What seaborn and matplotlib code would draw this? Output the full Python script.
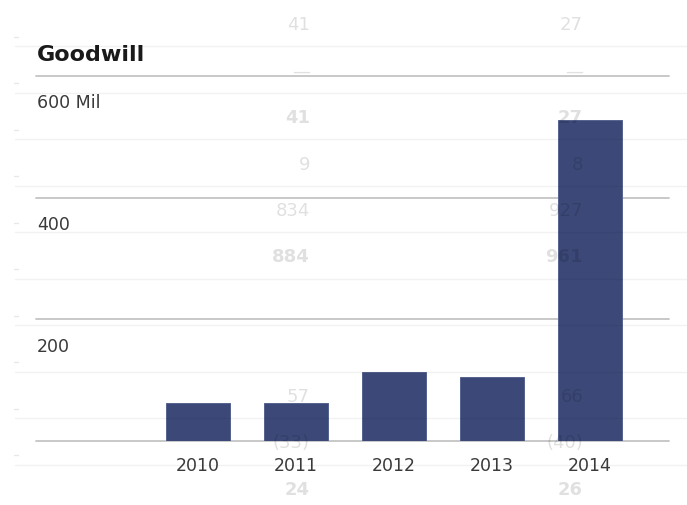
import matplotlib
matplotlib.use("Agg")
import matplotlib.pyplot as plt
import matplotlib.transforms as mtransforms
import seaborn as sns
import pandas as pd
from matplotlib.lines import Line2D

# ---- data ----
years = ["2010", "2011", "2012", "2013", "2014"]
goodwill = [62, 62, 113, 105, 528]
yticks = [0, 200, 400, 600]
ytick_labels = ["", "200", "400", "600 Mil"]
title = "Goodwill"

# faint background table text (two visible columns)
ghost_col_a = ["41", "—", "41", "9", "834", "884", "", "", "57", "(33)", "24"]
ghost_col_b = ["27", "—", "27", "8", "927", "961", "", "", "66", "(40)", "26"]
ghost_bold = [False, False, True, False, False, True, False, False, False, False, True]

sns.set_theme(style="white")
plt.rcParams["font.family"] = ["DejaVu Sans"]

W, H = 687, 506
fig = plt.figure(figsize=(W / 100, H / 100), dpi=100)
fig.patch.set_facecolor("white")

ax_left, ax_right = 36 / W, 669 / W
ax_bottom, ax_top = (H - 442) / H, (H - 77) / H
ax = fig.add_axes([ax_left, ax_bottom, ax_right - ax_left, ax_top - ax_bottom])
ax.patch.set_alpha(0)

df = pd.DataFrame({"year": years, "value": goodwill})
sns.barplot(data=df, x="year", y="value", color="#3c4878", width=0.653,
            saturation=1, edgecolor="#56628f", linewidth=0.7, ax=ax, zorder=3)

ax.set_xlim(-1.653, 4.806)
ax.set_ylim(0, 600)
for v in yticks:
    ax.axhline(v, color="#c4c4c4", lw=1.3, zorder=1, clip_on=False)

lab_tr = mtransforms.blended_transform_factory(fig.transFigure, ax.transData) + \
    mtransforms.ScaledTranslation(0, -17.5 / 100, fig.dpi_scale_trans)
for v, lab in zip(yticks, ytick_labels):
    if lab:
        ax.text(37 / W, v, lab, transform=lab_tr, ha="left", va="top",
                fontsize=12.5, color="#3a3a3a")

ax.set_yticks([])
ax.set_xlabel("")
ax.set_ylabel("")
ax.tick_params(axis="x", length=0, pad=11, labelsize=12.5, labelcolor="#3a3a3a")
for s in ax.spines.values():
    s.set_visible(False)

# faint table row lines and left ticks drawn on top (translucent)
row_y0, row_step = 47, 46.5
for i in range(10):
    y = row_y0 + i * row_step
    fig.add_artist(Line2D([15 / W, 1.0], [1 - y / H, 1 - y / H], color="black",
                          alpha=0.05, lw=1.0, zorder=5))
    yt = 37.5 + i * row_step
    fig.add_artist(Line2D([14 / W, 18 / W], [1 - yt / H, 1 - yt / H], color="black",
                          alpha=0.09, lw=1.0, zorder=5))

# ghost texts (translucent, on top)
txt_y0 = 25
for i, (a, b, bold) in enumerate(zip(ghost_col_a, ghost_col_b, ghost_bold)):
    y = 1 - (txt_y0 + i * row_step) / H
    fw = "bold" if bold else "normal"
    fig.text(310 / W, y, a, ha="right", va="center", fontsize=13, color="black",
             alpha=0.12, fontweight=fw, zorder=6)
    fig.text(583 / W, y, b, ha="right", va="center", fontsize=13, color="black",
             alpha=0.12, fontweight=fw, zorder=6)

fig.text(37 / W, 1 - 55 / H, title, ha="left", va="center", fontsize=16,
         fontweight="bold", color="#1a1a1a")

fig.savefig("out.png", dpi=100, facecolor="white")
